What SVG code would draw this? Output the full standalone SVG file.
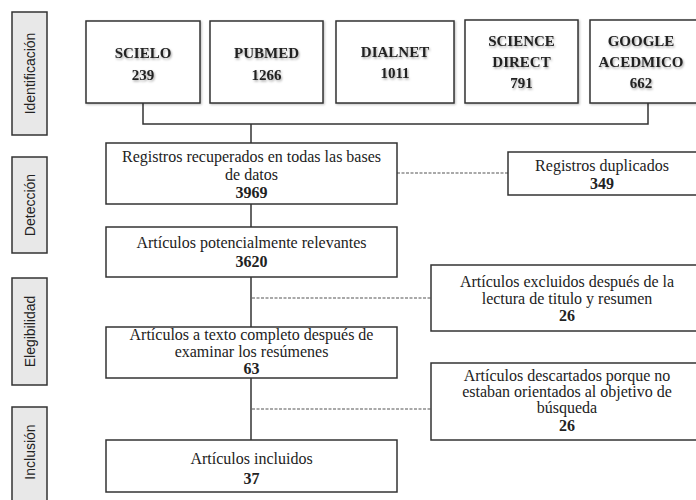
<svg xmlns="http://www.w3.org/2000/svg" width="696" height="500" viewBox="0 0 696 500">
<defs>
<style>
.side{fill:#e8e8e8;stroke:#333;stroke-width:1.5}
.box{fill:#fff;stroke:#333;stroke-width:1.5}
.sbox{fill:#fff;stroke:#333;stroke-width:1.5;filter:url(#bs)}
.lbl{font-family:"Liberation Sans",Arial,sans-serif;font-size:14px;fill:#222;text-anchor:middle}
.src{font-family:"Liberation Serif","Times New Roman",serif;font-size:15px;font-weight:bold;fill:#222;text-anchor:middle;filter:url(#ts)}
.t{font-family:"Liberation Serif","Times New Roman",serif;font-size:16px;fill:#222;text-anchor:middle}
.n{font-weight:bold}
.ln{fill:none;stroke:#333;stroke-width:1.5}
.dash{fill:none;stroke:#555;stroke-width:1.2;stroke-dasharray:3 1.5}
</style>
<filter id="ts" x="-20%" y="-40%" width="140%" height="180%">
<feDropShadow dx="1" dy="1.5" stdDeviation="1" flood-color="#000" flood-opacity="0.35"/>
</filter>
<filter id="bs" x="-5%" y="-5%" width="110%" height="115%">
<feDropShadow dx="1" dy="1" stdDeviation="0.8" flood-color="#000" flood-opacity="0.25"/>
</filter>
</defs>
<g id="phases">
<g id="ph-identificacion"><rect class="side" x="12" y="12" width="35" height="123"/><text class="lbl" transform="translate(34.5,73.5) rotate(-90)">Identificación</text></g>
<g id="ph-deteccion"><rect class="side" x="12" y="157" width="35" height="96"/><text class="lbl" transform="translate(34.5,205) rotate(-90)">Detección</text></g>
<g id="ph-elegibilidad"><rect class="side" x="12" y="278" width="35" height="107"/><text class="lbl" transform="translate(34.5,331.5) rotate(-90)">Elegibilidad</text></g>
<g id="ph-inclusion"><rect class="side" x="12" y="407" width="35" height="100"/><text class="lbl" transform="translate(34.5,452) rotate(-90)">Inclusión</text></g>
</g>
<g id="connectors">
<polyline class="ln" points="143,103 143,124 648,124 648,103"/>
<line class="ln" x1="251" y1="124" x2="251" y2="143"/>
<line class="ln" x1="251" y1="204" x2="251" y2="227"/>
<line class="ln" x1="251" y1="277" x2="251" y2="327"/>
<line class="ln" x1="251" y1="378" x2="251" y2="440"/>
<line class="dash" x1="397" y1="173" x2="508" y2="173"/>
<line class="dash" x1="252" y1="298" x2="431" y2="298"/>
<line class="dash" x1="252" y1="409" x2="431" y2="409"/>
</g>
<g id="scielo"><rect class="sbox" x="86" y="21" width="114" height="82"/><text class="src" x="143" y="58">SCIELO</text><text class="src" x="143" y="80">239</text></g>
<g id="pubmed"><rect class="sbox" x="210" y="21" width="113" height="82"/><text class="src" x="266.5" y="58">PUBMED</text><text class="src" x="266.5" y="80">1266</text></g>
<g id="dialnet"><rect class="sbox" x="336" y="21" width="118" height="82"/><text class="src" x="395" y="57">DIALNET</text><text class="src" x="395" y="78">1011</text></g>
<g id="sciencedirect"><rect class="sbox" x="465" y="20" width="113" height="83"/><text class="src" x="521.5" y="46">SCIENCE</text><text class="src" x="521.5" y="67">DIRECT</text><text class="src" x="521.5" y="88">791</text></g>
<g id="google"><rect class="sbox" x="590" y="20" width="120" height="83"/><text class="src" x="641" y="46">GOOGLE</text><text class="src" x="641" y="67">ACEDMICO</text><text class="src" x="641" y="88">662</text></g>
<g id="registros"><rect class="box" x="106" y="143" width="291" height="61"/><text class="t" x="251.5" y="162">Registros recuperados en todas las bases</text><text class="t" x="251.5" y="180">de datos</text><text class="t n" x="251.5" y="198">3969</text></g>
<g id="duplicados"><rect class="box" x="508" y="152" width="200" height="43"/><text class="t" x="602" y="171">Registros duplicados</text><text class="t n" x="602" y="189">349</text></g>
<g id="potenciales"><rect class="box" x="106" y="227" width="291" height="50"/><text class="t" x="251.5" y="248">Artículos potencialmente relevantes</text><text class="t n" x="251.5" y="267">3620</text></g>
<g id="excluidos"><rect class="box" x="431" y="265" width="280" height="66"/><text class="t" x="567" y="287">Artículos excluidos después de la</text><text class="t" x="567" y="304">lectura de titulo y resumen</text><text class="t n" x="567" y="321">26</text></g>
<g id="textocompleto"><rect class="box" x="106" y="327" width="291" height="51"/><text class="t" x="251.5" y="340">Artículos a texto completo después de</text><text class="t" x="251.5" y="357">examinar los resúmenes</text><text class="t n" x="251.5" y="374">63</text></g>
<g id="descartados"><rect class="box" x="431" y="363" width="280" height="77"/><text class="t" x="567" y="381">Artículos descartados porque no</text><text class="t" x="567" y="397">estaban orientados al objetivo de</text><text class="t" x="567" y="413">búsqueda</text><text class="t n" x="567" y="431">26</text></g>
<g id="incluidos"><rect class="box" x="106" y="440" width="291" height="52"/><text class="t" x="251.5" y="464">Artículos incluidos</text><text class="t n" x="251.5" y="484">37</text></g>
</svg>
